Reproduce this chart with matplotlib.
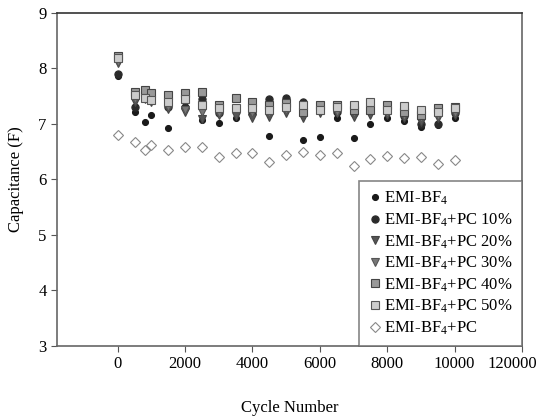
import matplotlib
matplotlib.use('Agg')
import matplotlib.pyplot as plt
import matplotlib.transforms as mtransforms

plt.rcParams['font.family'] = ['Liberation Serif', 'DejaVu Serif']
plt.rcParams['mathtext.default'] = 'regular'

cycles = [0, 500, 800, 1000, 1500, 2000, 2500, 3000, 3500, 4000, 4500,
          5000, 5500, 6000, 6500, 7000, 7500, 8000, 8500, 9000, 9500, 10000]

emi = [7.86, 7.22, 7.04, 7.17, 6.93, 7.28, 7.07, 7.01, 7.10, 7.25, 6.79,
       7.35, 6.71, 6.77, 7.10, 6.74, 7.00, 7.10, 7.05, 6.95, 6.98, 7.10]
pc10 = [7.90, 7.30, 7.50, 7.45, 7.30, 7.31, 7.45, 7.20, 7.25, 7.20, 7.45,
        7.47, 7.40, 7.28, 7.22, 7.20, 7.30, 7.30, 7.15, 7.00, 7.00, 7.20]
pc20 = [8.10, 7.40, 7.45, 7.40, 7.27, 7.22, 7.09, 7.16, 7.15, 7.11, 7.13,
        7.20, 7.11, 7.20, 7.19, 7.13, 7.16, 7.16, 7.10, 7.04, 7.10, 7.16]
pc30 = [8.12, 7.45, 7.50, 7.45, 7.30, 7.25, 7.22, 7.20, 7.25, 7.20, 7.20,
        7.25, 7.18, 7.25, 7.22, 7.20, 7.30, 7.20, 7.15, 7.10, 7.15, 7.20]
pc40 = [8.22, 7.58, 7.61, 7.56, 7.52, 7.55, 7.58, 7.34, 7.46, 7.40, 7.34,
        7.38, 7.22, 7.35, 7.34, 7.25, 7.25, 7.35, 7.22, 7.16, 7.28, 7.30]
pc50 = [8.18, 7.52, 7.47, 7.43, 7.40, 7.45, 7.34, 7.29, 7.29, 7.29, 7.25,
        7.30, 7.34, 7.26, 7.30, 7.34, 7.40, 7.26, 7.32, 7.26, 7.22, 7.28]
pc100 = [6.80, 6.68, 6.53, 6.62, 6.54, 6.59, 6.58, 6.40, 6.47, 6.47, 6.31,
         6.44, 6.50, 6.44, 6.47, 6.24, 6.37, 6.43, 6.39, 6.41, 6.27, 6.35]

labels = ['EMI-BF$_4$', 'EMI-BF$_4$+PC 10%', 'EMI-BF$_4$+PC 20%',
          'EMI-BF$_4$+PC 30%', 'EMI-BF$_4$+PC 40%', 'EMI-BF$_4$+PC 50%',
          'EMI-BF$_4$+PC']
xticks = [0, 2000, 4000, 6000, 8000, 10000, 12000]
xticklabels = ['0', '2000', '4000', '6000', '8000', '10000', '120000']

fig = plt.figure(figsize=(5.39, 4.16), dpi=100)
ax = fig.add_axes([0.1058, 0.1683, 0.8627, 0.8005])

styles = [
    dict(marker='o', ms=4.3, mfc='#1a1a1a', mec='#1a1a1a'),
    dict(marker='o', ms=5.2, mfc='#2a2a2a', mec='#2a2a2a'),
    dict(marker='v', ms=5.5, mfc='#555555', mec='#444444'),
    dict(marker='v', ms=5.5, mfc='#777777', mec='#555555'),
    dict(marker='s', ms=5.5, mfc='#999999', mec='#444444'),
    dict(marker='s', ms=5.5, mfc='#cccccc', mec='#555555'),
    dict(marker='D', ms=5.5, mfc='white', mec='#888888'),
]
series = [emi, pc10, pc20, pc30, pc40, pc50, pc100]
for vals, lab, st in zip(series, labels, styles):
    ax.plot(cycles, vals, ls='none', mew=0.8, label=lab, **st)

ax.set_xlim(-1800, 12000)
ax.set_ylim(3, 9)
ax.set_xticks(xticks)
ax.set_xticklabels(xticklabels)
ax.set_yticks([3, 4, 5, 6, 7, 8, 9])
ax.tick_params(labelsize=12, length=4, color='#555555')

# last tick label sits a bit left so it fits in the figure
last = ax.get_xticklabels()[-1]
last.set_transform(last.get_transform() +
                   mtransforms.ScaledTranslation(-10 / 100, 0, fig.dpi_scale_trans))

for s in ['left', 'bottom', 'right']:
    ax.spines[s].set_color('#666666')
ax.spines['top'].set_color('#333333')
for s in ax.spines.values():
    s.set_linewidth(1.2)

ax.set_xlabel('Cycle Number', fontsize=12, labelpad=20)
ax.set_ylabel('Capacitance (F)', fontsize=12, labelpad=10)

leg = ax.legend(loc='lower right', fontsize=12, borderaxespad=0,
                frameon=True, fancybox=False, handlelength=0.8,
                handletextpad=0.15, labelspacing=0.25, borderpad=0.55)
leg.get_frame().set_edgecolor('#666666')
leg.get_frame().set_linewidth(1.2)

fig.savefig('out.png', dpi=100)
